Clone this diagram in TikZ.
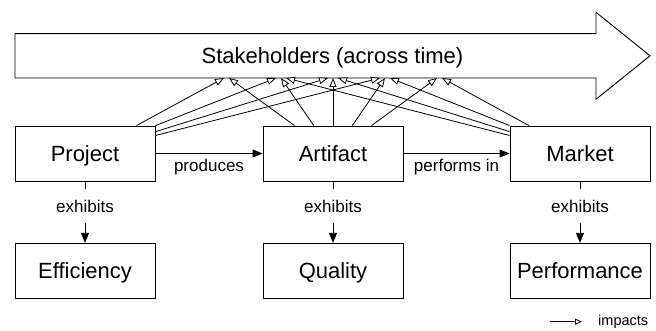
\documentclass[tikz,border=0pt]{standalone}
\usepackage{fontspec}
\setmainfont{Liberation Sans}
\usetikzlibrary{arrows.meta}
\tikzset{
  box/.style={draw, line width=0.9pt, minimum width=140pt, minimum height=55pt,
    inner xsep=2pt, text height=18pt, text depth=2.2pt,
    font=\fontsize{22}{26}\selectfont},
  lbl/.style={font=\fontsize{17}{20}\selectfont},
  rel/.style={line width=0.9pt, -{Triangle[length=10pt,width=8pt]}},
  impact/.style={line width=0.8pt, -{Triangle[open,length=9pt,width=7pt,fill=white]}},
  legarrow/.style={line width=0.8pt, -{Triangle[open,length=7pt,width=6pt,fill=white]}},
}
\begin{document}
\begin{tikzpicture}[x=1pt,y=-1pt]
\useasboundingbox (0,0) rectangle (656,331);
% stakeholders (across time)
\draw[line width=0.9pt] (15,33.7) -- (596,33.7) -- (596,12.3) -- (650,55.8)
      -- (596,99.3) -- (596,78) -- (15,78) -- cycle;
\node[text height=18pt, text depth=2.2pt, font=\fontsize{22}{26}\selectfont]
      (stake) at (332.5,56) {Stakeholders (across time)};
\foreach \k in {1,...,5}{
  \coordinate (p\k) at ({328+52*(\k-3)},78);
  \coordinate (a\k) at ({333+52*(\k-3)},78);
  \coordinate (m\k) at ({338+52*(\k-3)},78);
}
% boxes
\node[box] (proj) at (85,153.5) {Project};
\node[box] (art)  at (333,153.5) {Artifact};
\node[box] (mkt)  at (580,153.5) {Market};
\node[box] (eff)  at (85,270.8) {Efficiency};
\node[box] (qual) at (333,270.8) {Quality};
\node[box] (perf) at (580,270.8) {Performance};
% impacts
\foreach \k in {1,...,4} \draw[impact] (proj) -- (p\k);
\foreach \k in {1,...,5} \draw[impact] (art) -- (a\k);
\foreach \k in {2,...,5} \draw[impact] (mkt) -- (m\k);
% relations
\draw[rel] (proj) -- node[lbl, below=3pt, inner sep=2pt] (lprod) {produces} (art);
\draw[rel] (art) -- node[lbl, below=3pt, inner sep=2pt] (lperf) {performs in} (mkt);
\node[lbl, inner ysep=11pt] (ex1) at (85,206) {exhibits};
\node[lbl, inner ysep=11pt] (ex2) at (333,206) {exhibits};
\node[lbl, inner ysep=11pt] (ex3) at (580,206) {exhibits};
\draw[line width=0.9pt] (proj) -- (ex1);
\draw[line width=0.9pt] (art) -- (ex2);
\draw[line width=0.9pt] (mkt) -- (ex3);
\draw[rel] (ex1) -- (eff);
\draw[rel] (ex2) -- (qual);
\draw[rel] (ex3) -- (perf);
% legend
\coordinate (legA) at (550,321.7);
\coordinate (legB) at (582,321.7);
\draw[legarrow] (legA) -- (legB);
\node[font=\fontsize{14.5}{17}\selectfont, anchor=west, inner sep=0pt]
      (leg) at (598,321.7) {impacts};
\end{tikzpicture}
\end{document}
